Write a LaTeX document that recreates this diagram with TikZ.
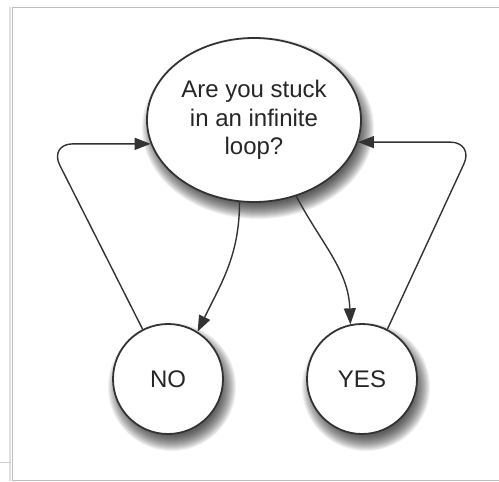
\documentclass[tikz,border=0pt]{standalone}
\usepackage{fontspec}
\setmainfont{Liberation Sans}
\usetikzlibrary{arrows.meta,positioning,shapes.geometric}

\begin{document}
\begin{tikzpicture}[x=1pt,y=-1pt,
  state/.style={draw=black!80,line width=1.8pt,fill=white,inner sep=0pt,
    font=\fontsize{24}{28.5}\selectfont,align=center,text=black!85},
  shade/.style={fill=black,opacity=0.06},
  link/.style={draw=black!80,line width=1.4pt,-{Triangle[length=16pt,width=12pt]}}]
  \useasboundingbox (0,0) rectangle (499,482);
  % window frame
  \draw[black!12,line width=2pt] (10,7) -- (10,481);
  \draw[black!25,line width=1pt] (499,7) -- (12,7) -- (12,480) -- (499,480);
  \draw[black!20,line width=0.8pt] (0,462) -- (11,462);

  % soft shadows
  \foreach \r in {-11,...,4} {
    \fill[shade] (258,128) ellipse ({105-\r} and {80-\r});
    \fill[shade] (172,387) circle ({53-\r});
    \fill[shade] (366,387) circle ({53-\r});
  }

  \node[state,ellipse,minimum width=214pt,minimum height=164pt] (loop) at (254,120)
    {Are you stuck\\in an infinite\\loop?};
  \node[state,circle,minimum size=110pt] (no) at (168,379) {NO};
  \node[state,circle,minimum size=110pt] (yes) at (362,379) {YES};

  \coordinate (leftx) at (49,0);
  \coordinate (rightx) at (474,0);
  \draw[link] (loop.260) to[out=-90,in=64] (no.58);
  \draw[link] (loop.299) to[out=-62,in=92] (yes.102);
  \draw[link,rounded corners=24pt] (no.117) -- (leftx |- loop.193) -- (loop.193);
  \draw[link,rounded corners=24pt] (yes.63) -- (rightx |- loop.348) -- (loop.348);
\end{tikzpicture}
\end{document}
